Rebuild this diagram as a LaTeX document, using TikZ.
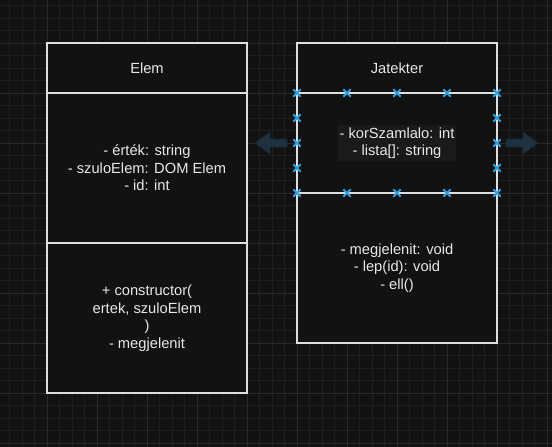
\documentclass[tikz,border=0pt]{standalone}
\usepackage{fontspec}
\setmainfont{Liberation Sans}
\usetikzlibrary{shapes.misc}

\definecolor{canvas}{RGB}{18,18,18}
\definecolor{gridminor}{RGB}{30,30,30}
\definecolor{gridmajor}{RGB}{42,42,42}
\definecolor{umlline}{RGB}{222,222,222}
\definecolor{umltext}{RGB}{232,232,232}
\definecolor{labelbg}{RGB}{26,26,26}
\definecolor{handleblue}{RGB}{48,160,222}
\definecolor{hoverfill}{RGB}{30,50,66}

\tikzset{
	umlpart/.style={draw=umlline, line width=1.2pt, fill=canvas, minimum width=200pt, inner sep=0pt, text=umltext, align=center, font=\fontsize{14.7}{17.6}\selectfont},
	umllabel/.style={fill=labelbg, inner sep=2pt, text=umltext, align=center, font=\fontsize{14.7}{17.6}\selectfont},
	handle/.style={cross out, draw=handleblue, line width=1.8pt, minimum size=5.5pt, inner sep=0pt},
	hover/.style={fill=hoverfill, draw=hoverfill!80!black, line width=0.6pt}
}

\begin{document}
\begin{tikzpicture}[x=1pt, y=-1pt]
	\useasboundingbox [fill=canvas] (0,0) rectangle (552,447);
	\foreach \gx in {9.5,22,...,552} \draw [gridminor, line width=0.8pt] (\gx,0) -- (\gx,447);
	\foreach \gy in {5.5,18,...,447} \draw [gridminor, line width=0.8pt] (0,\gy) -- (552,\gy);
	\foreach \gx in {47,97,...,547} \draw [gridmajor, line width=0.8pt] (\gx,0) -- (\gx,447);
	\foreach \gy in {43,93,...,443} \draw [gridmajor, line width=0.8pt] (0,\gy) -- (552,\gy);

	\node [umlpart, minimum height=50pt] at (147, 68) (elemhead) {Elem};
	\node [umlpart, minimum height=150pt] at (147, 168) (elemattr) {- érték: string\\- szuloElem: DOM Elem\\- id: int};
	\node [umlpart, minimum height=150pt] at (147, 318) (elemops) {+ constructor(\\ertek, szuloElem\\)\\- megjelenit};

	\node [umlpart, minimum height=50pt] at (397, 68) (jathead) {Jatekter};
	\node [umlpart, minimum height=100pt] at (397, 143) (jatattr) {};
	\node [umllabel] at (397, 143) (jatattrtext) {- korSzamlalo: int\\- lista[]: string};
	\node [umlpart, minimum height=150pt] at (397, 268) (jatops) {- megjelenit: void\\- lep(id): void\\- ell()};

	\foreach \hx in {297,347,...,497} {
		\node [handle] at (\hx, 93) (htop\hx) {};
		\node [handle] at (\hx, 193) (hbot\hx) {};
	}
	\foreach \hy in {118,143,168} {
		\node [handle] at (297, \hy) (hleft\hy) {};
		\node [handle] at (497, \hy) (hright\hy) {};
	}

	\fill [hover] (255,143) -- (270,132) -- (270,139) -- (287,139) -- (287,147) -- (270,147) -- (270,154) -- cycle;
	\fill [hover] (538,143) -- (523,132) -- (523,139) -- (506,139) -- (506,147) -- (523,147) -- (523,154) -- cycle;
\end{tikzpicture}
\end{document}
